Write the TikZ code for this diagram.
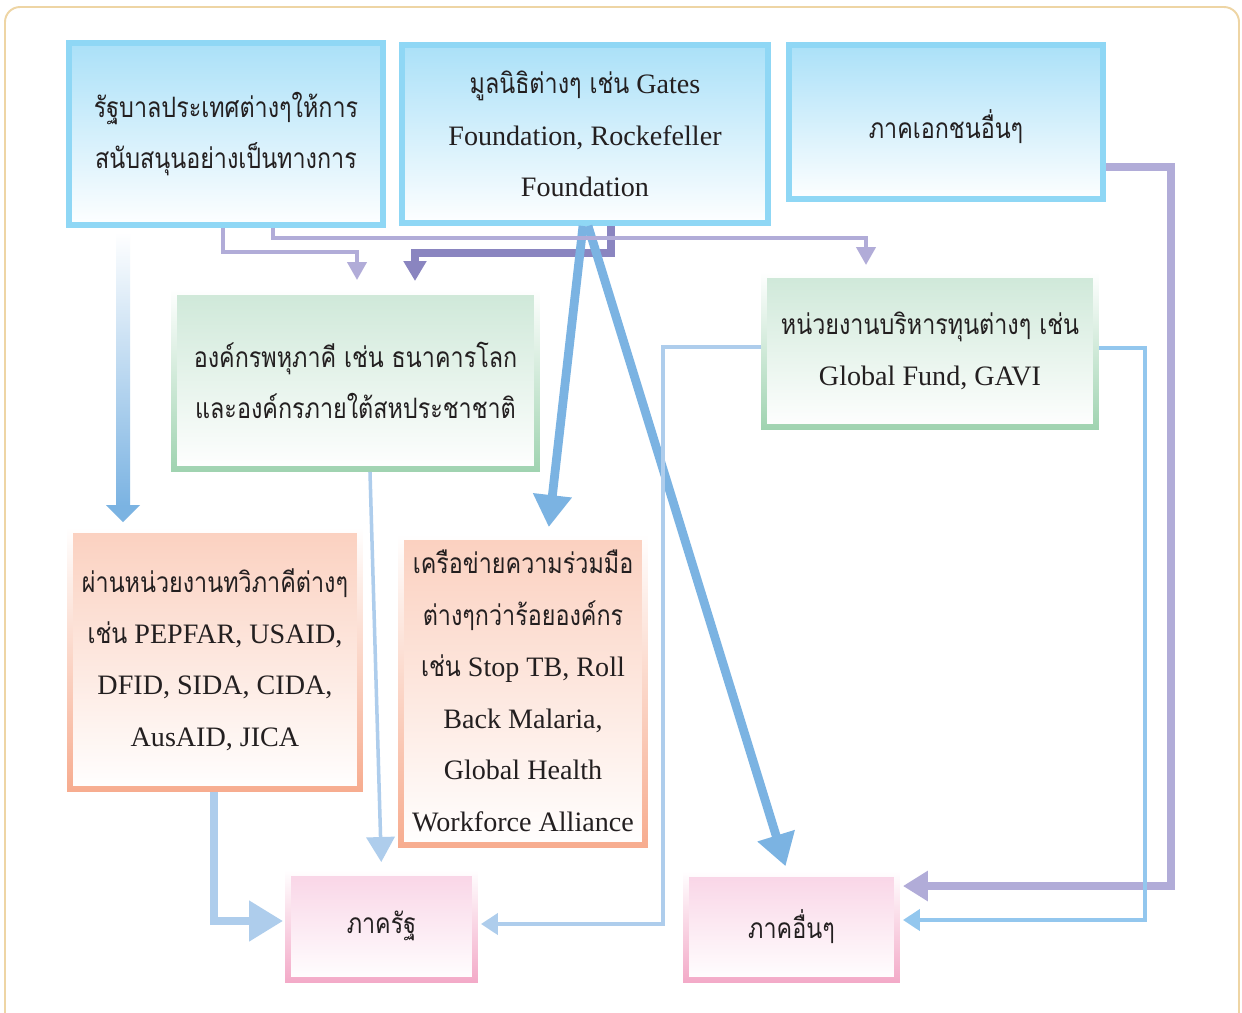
\documentclass[tikz,border=0pt]{standalone}
\usepackage{fontspec}
\setmainfont{Liberation Serif}
\newfontfamily\thaifont[Script=Thai, FakeStretch=0.83]{Loma}
\newcommand\thai[1]{{\thaifont #1}}
\usetikzlibrary{arrows.meta,calc}

\definecolor{blueline}{HTML}{8FD7F5}
\definecolor{bluefill}{HTML}{A9E0F8}
\definecolor{greenline}{HTML}{9FD3B0}
\definecolor{greenfill}{HTML}{CEE8D8}
\definecolor{orangeline}{HTML}{F7AC8F}
\definecolor{orangefill}{HTML}{FBD0BF}
\definecolor{pinkline}{HTML}{F3AAC8}
\definecolor{pinkfill}{HTML}{F9D4E6}
\definecolor{framecol}{HTML}{EED5A4}
\definecolor{arrowblue}{HTML}{7BB3E2}
\definecolor{paleblue}{HTML}{AECDEC}
\definecolor{midblue}{HTML}{93C7EE}
\definecolor{lilac}{HTML}{B1ACD8}
\definecolor{violet}{HTML}{8A85C0}
\definecolor{textcol}{HTML}{231F20}

\tikzset{
  cell/.style n args={3}{rectangle, inner sep=0pt, outer sep=0pt, align=center,
    font=\fontsize{16}{29.3}\selectfont, text=textcol,
    top color=#1, bottom color=#2,
    path picture={\shade[top color=#3, bottom color=white]
      ([shift={(0.12cm,-0.12cm)}]path picture bounding box.north west) rectangle
      ([shift={(-0.12cm,0.12cm)}]path picture bounding box.south east);}},
  bluebox/.style={cell={blueline}{blueline}{bluefill}},
  greenbox/.style={cell={white}{greenline}{greenfill}},
  orangebox/.style={cell={white}{orangeline}{orangefill}},
  pinkbox/.style={cell={white}{pinkline}{pinkfill}},
  thinlilac/.style={draw=lilac, line width=2.3pt, -{Triangle[width=0.38cm, length=0.36cm]}},
  fatviolet/.style={draw=violet, line width=4.5pt, -{Triangle[width=0.44cm, length=0.4cm]}},
  fatlilac/.style={draw=lilac, line width=5pt, -{Triangle[width=0.58cm, length=0.5cm]}},
  fatblue/.style={draw=arrowblue, line width=5pt, -{Triangle[width=0.74cm, length=0.64cm]}},
  thinblue/.style={draw=#1, line width=2.4pt, -{Triangle[width=0.42cm, length=0.34cm]}},
}

\begin{document}
\begin{tikzpicture}[x=0.02cm, y=-0.02cm]
  \fill[white] (0,0) rectangle (1242,1012);
  \useasboundingbox (0,0) rectangle (1242,1012);
  % outer frame
  \draw[framecol, line width=1.1pt, rounded corners=0.3cm] (5,7) rectangle (1239,1040);

  % donors
  \node[bluebox, minimum width=6.4cm, minimum height=3.76cm] (gov) at (226,134)
    {\thai{รัฐบาลประเทศต่างๆให้การ}\\\thai{สนับสนุนอย่างเป็นทางการ}};
  \node[bluebox, minimum width=7.44cm, minimum height=3.68cm] (found) at (585,134)
    {\thai{มูลนิธิต่างๆ เช่น} Gates\\Foundation, Rockefeller\\Foundation};
  \node[bluebox, minimum width=6.4cm, minimum height=3.2cm, text height=0.72cm, text depth=0.05cm] (priv) at (946,122)
    {\thai{ภาคเอกชนอื่นๆ}};

  % channels
  \node[greenbox, minimum width=7.38cm, minimum height=3.66cm] (multi) at (355.5,380.5)
    {\thai{องค์กรพหุภาคี เช่น ธนาคารโลก}\\\thai{และองค์กรภายใต้สหประชาชาติ}};
  \node[greenbox, minimum width=6.76cm, minimum height=3.16cm] (fund) at (930,351)
    {\thai{หน่วยงานบริหารทุนต่างๆ เช่น}\\Global Fund, GAVI};
  \node[orangebox, minimum width=5.92cm, minimum height=5.3cm] (bilat) at (215,659.5)
    {\thai{ผ่านหน่วยงานทวิภาคีต่างๆ}\\\thai{เช่น} PEPFAR, USAID,\\DFID, SIDA, CIDA,\\AusAID, JICA};
  \node[orangebox, minimum width=5cm, minimum height=6.28cm] (net) at (523,691)
    {\thai{เครือข่ายความร่วมมือ}\\\thai{ต่างๆกว่าร้อยองค์กร}\\\thai{เช่น} Stop TB, Roll\\Back Malaria,\\Global Health\\Workforce Alliance};

  % recipients
  \node[pinkbox, minimum width=3.86cm, minimum height=2.24cm] (state) at (381.5,926)
    {\thai{ภาครัฐ}};
  \node[pinkbox, minimum width=4.34cm, minimum height=2.22cm] (other) at (791.5,926.5)
    {\thai{ภาคอื่นๆ}};

  % gov -> bilateral (faded shaft)
  \coordinate (aTop) at ([xshift=-2.06cm,yshift=-0.08cm]gov.south);
  \coordinate (aEnd) at (aTop |- bilat.north);
  \shade[top color=white, bottom color=arrowblue] ($(aTop)+(-7,0)$) rectangle ($(aEnd)+(7,-21)$);
  \fill[arrowblue] ($(aEnd)+(-17,-22)$) -- ($(aEnd)+(17,-22)$) -- ($(aEnd)+(0,-5)$) -- cycle;

  % foundation -> multilateral
  \draw[fatviolet, shorten >=0.16cm] ([xshift=0.52cm]found.south) -- ++(0,27) -| ([xshift=1.19cm]multi.north);
  % foundation -> network, other sectors
  \draw[fatblue, shorten >=0.14cm] ([xshift=-0.04cm]found.south) -- ([xshift=0.5cm]net.north);
  \draw[fatblue, shorten >=0.1cm] ([xshift=0.06cm]found.south) -- ([xshift=-0.09cm]other.north);
  % gov -> multilateral, fund
  \draw[thinlilac, shorten >=0.18cm] ([xshift=-0.06cm]gov.south) -- ++(0,24) -| ([xshift=0.03cm]multi.north);
  \draw[thinlilac, shorten >=0.14cm] ([xshift=0.94cm]gov.south) -- ++(0,10) -| ([xshift=-1.28cm]fund.north);
  % private -> other sectors
  \draw[fatlilac, shorten >=0.06cm] ([yshift=-0.9cm]priv.east) -- ++(65,0) |- ([yshift=0.81cm]other.east);
  % fund -> other sectors, state
  \draw[thinblue=midblue, shorten >=0.06cm] ([yshift=0.06cm]fund.east) -- ++(46,0) |- ([yshift=0.13cm]other.east);
  \draw[thinblue=paleblue, shorten >=0.06cm] ([yshift=0.08cm]fund.west) -- ++(-98,0) |- ([yshift=0.04cm]state.east);
  % multilateral -> state
  \draw[paleblue, line width=2pt, -{Triangle[width=0.56cm, length=0.5cm]}, shorten >=0.16cm]
    ([xshift=0.29cm]multi.south) -- (state.north);
  % bilateral -> state
  \draw[paleblue, line width=4.5pt, -{Triangle[width=0.78cm, length=0.68cm]}, shorten >=0.04cm]
    ([xshift=-0.02cm]bilat.south) |- ([yshift=0.1cm]state.west);
\end{tikzpicture}
\end{document}
